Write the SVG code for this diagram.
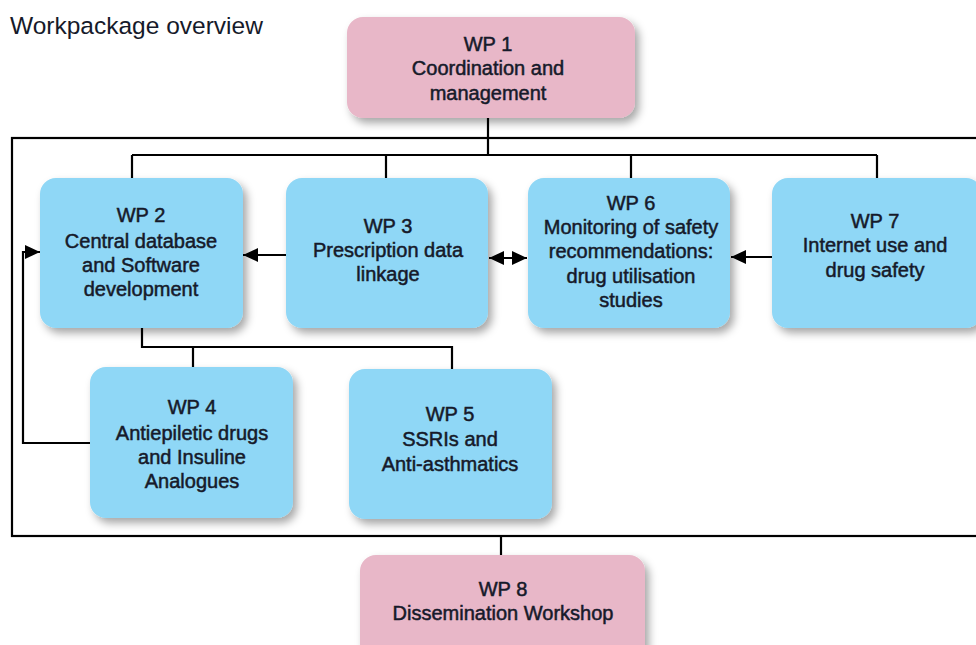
<svg xmlns="http://www.w3.org/2000/svg" width="976" height="645" viewBox="0 0 976 645">
<defs>
<style>
.t{font-family:"Liberation Sans",Arial,sans-serif;font-size:20px;fill:#161a2a;text-anchor:middle;font-weight:normal;stroke:#161a2a;stroke-width:0.5}
.title{font-family:"Liberation Sans",Arial,sans-serif;font-size:24.5px;fill:#161a2a}
.blue{fill:#8fd7f6}
.pink{fill:#e8b7c8}
.ln{fill:none;stroke:#000;stroke-width:2.2}
</style>
<filter id="sh" x="-10%" y="-10%" width="125%" height="130%">
<feDropShadow dx="4" dy="5" stdDeviation="4" flood-color="#000" flood-opacity="0.35"/>
</filter>
<marker id="ah" viewBox="0 0 10 10" refX="10" refY="5" markerWidth="7" markerHeight="6.5" orient="auto-start-reverse" markerUnits="strokeWidth" preserveAspectRatio="none">
<path d="M0,0 L10,5 L0,10 Z" fill="#000"/>
</marker>
</defs>
<rect width="976" height="645" fill="#fff"/>
<text class="title" x="10" y="34">Workpackage overview</text>

<g id="connectors">
<rect x="12" y="138" width="980" height="398" class="ln"/>
<path class="ln" d="M488,118 V155 M132,155 H877 M132,155 V178 M386,155 V178 M631,155 V178 M877,155 V178"/>
<path class="ln" d="M142,328 V347 H452 V369 M193,347 V367"/>
<path class="ln" d="M90,443 H23 V252 H40" marker-end="url(#ah)"/>
<path class="ln" d="M286,255 H243" marker-end="url(#ah)"/>
<path class="ln" d="M489,258 H527" marker-start="url(#ah)" marker-end="url(#ah)"/>
<path class="ln" d="M772,257 H731" marker-end="url(#ah)"/>
<path class="ln" d="M501,536 V555"/>
</g>

<g id="wp1"><rect x="347" y="17" width="288" height="101" rx="16" class="pink" filter="url(#sh)"/>
<text class="t" x="488" y="51">WP 1</text><text class="t" x="488" y="75">Coordination and</text><text class="t" x="488" y="100">management</text></g>

<g id="wp2"><rect x="40" y="178" width="203" height="150" rx="16" class="blue" filter="url(#sh)"/>
<text class="t" x="141" y="222">WP 2</text><text class="t" x="141" y="248">Central database</text><text class="t" x="141" y="272">and Software</text><text class="t" x="141" y="296">development</text></g>

<g id="wp3"><rect x="286" y="178" width="202" height="150" rx="16" class="blue" filter="url(#sh)"/>
<text class="t" x="388" y="233">WP 3</text><text class="t" x="388" y="257">Prescription data</text><text class="t" x="388" y="281">linkage</text></g>

<g id="wp6"><rect x="528" y="178" width="202" height="150" rx="16" class="blue" filter="url(#sh)"/>
<text class="t" x="631" y="210">WP 6</text><text class="t" x="631" y="234">Monitoring of safety</text><text class="t" x="631" y="258">recommendations:</text><text class="t" x="631" y="283">drug utilisation</text><text class="t" x="631" y="307">studies</text></g>

<g id="wp7"><rect x="772" y="178" width="210" height="150" rx="16" class="blue" filter="url(#sh)"/>
<text class="t" x="875" y="228">WP 7</text><text class="t" x="875" y="252">Internet use and</text><text class="t" x="875" y="277">drug safety</text></g>

<g id="wp4"><rect x="90" y="367" width="203" height="151" rx="16" class="blue" filter="url(#sh)"/>
<text class="t" x="192" y="414">WP 4</text><text class="t" x="192" y="440">Antiepiletic drugs</text><text class="t" x="192" y="464">and Insuline</text><text class="t" x="192" y="488">Analogues</text></g>

<g id="wp5"><rect x="349" y="369" width="203" height="150" rx="16" class="blue" filter="url(#sh)"/>
<text class="t" x="450" y="421">WP 5</text><text class="t" x="450" y="446">SSRIs and</text><text class="t" x="450" y="471">Anti-asthmatics</text></g>

<g id="wp8"><rect x="360" y="555" width="285" height="110" rx="16" class="pink" filter="url(#sh)"/>
<text class="t" x="503" y="596">WP 8</text><text class="t" x="503" y="620">Dissemination Workshop</text></g>
</svg>
